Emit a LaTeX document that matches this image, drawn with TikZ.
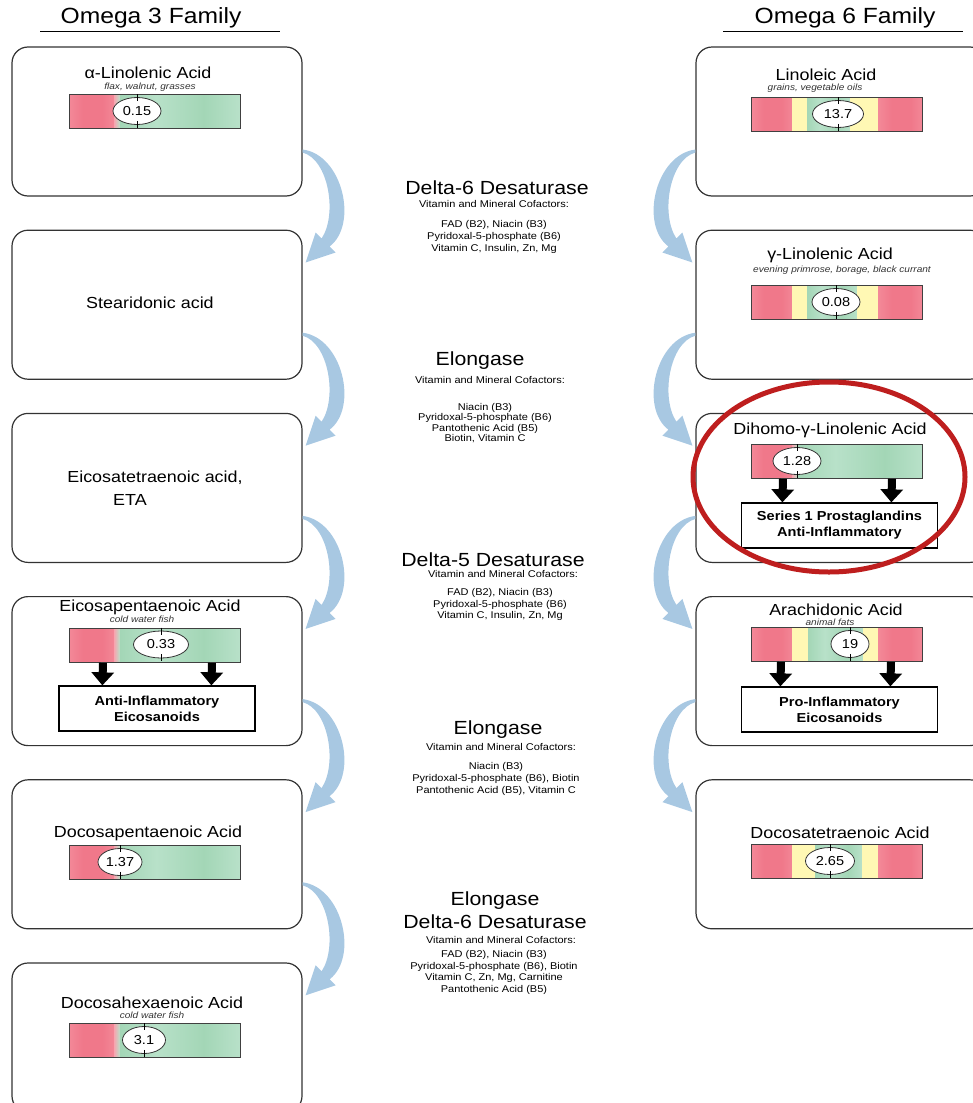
\documentclass[tikz,border=0pt]{standalone}
\usepackage{fontspec}
\setmainfont[FakeStretch=1.12]{Liberation Sans}
\usepackage{tikz}
\usetikzlibrary{positioning,arrows.meta,shapes.geometric,calc}
\definecolor{pkA}{HTML}{F8A4AF}
\definecolor{pkB}{HTML}{F0788A}
\definecolor{gnA}{HTML}{B8E1C9}
\definecolor{gnB}{HTML}{A3D6B6}
\definecolor{ylA}{HTML}{FFF8B4}
\definecolor{flowblue}{HTML}{A8C8E2}
\definecolor{hired}{HTML}{BE1E1E}
\pgfdeclarehorizontalshading{redband}{100bp}{color(0bp)=(pkA); color(40bp)=(pkB); color(62bp)=(pkB); color(100bp)=(pkA)}
\pgfdeclarehorizontalshading{greenband}{100bp}{color(0bp)=(gnA); color(25bp)=(gnB); color(40bp)=(gnA); color(60bp)=(gnB); color(75bp)=(gnA); color(90bp)=(gnB); color(100bp)=(gnA)}
\tikzset{
famtitle/.style={
font=\fontsize{22}{26}\selectfont
},
famline/.style={
line width=1.2pt
},
acidbox/.style={
draw=black!80,
line width=1.2pt,
rounded corners=16pt,
minimum width=290pt,
minimum height=149pt
},
acid/.style={
font=\fontsize{16}{19}\selectfont,
inner sep=0pt
},
source/.style={
font=\itshape\fontsize{9}{10}\selectfont,
text=black!80,
inner sep=0pt
},
bar/.style={
draw=black!75,
line width=0.8pt,
minimum width=171pt,
minimum height=34pt,
inner sep=0pt,
anchor=north west
},
val/.style={
ellipse,
draw=black!80,
line width=0.8pt,
fill=white,
minimum height=27pt,
inner sep=1pt,
font=\fontsize{13}{15}\selectfont
},
tick/.style={
line width=0.8pt
},
enzyme/.style={
font=\fontsize{19}{22}\selectfont,
inner sep=0pt
},
cofhead/.style={
font=\fontsize{9.8}{11}\selectfont,
inner sep=0pt
},
cof/.style={
font=\fontsize{9.8}{12}\selectfont,
align=center,
inner sep=0pt
},
effect/.style={
draw,
line width=1.3pt,
fill=white,
minimum width=196pt,
minimum height=45pt,
align=center,
font=\bfseries\fontsize{13}{16}\selectfont
},
blk/.style={
-{Triangle[width=22pt,length=13pt]},
line width=8pt
},
flow/.style={
fill=flowblue
},
hilite/.style={
draw=hired,
line width=5pt,
ellipse,
minimum width=272pt,
minimum height=190pt
}
}
% red | green bar: name, left x, top y, red end
\newcommand{\threebar}[4]{%
\begin{scope}[shift={(#2,#3)}]
\shade[shading=redband] (0,0) rectangle (#4,34);
\shade[left color=pkA,middle color=ylA,right color=gnA] (#4,0) rectangle (#4+6,34);
\shade[shading=greenband] (#4+6,0) rectangle (171,34);
\end{scope}
\node[bar](#1) at (#2,#3){};}
% red | yellow | green | yellow | red bar: name, left x, top y, green start, green end
\newcommand{\sixbar}[5]{%
\begin{scope}[shift={(#2,#3)}]
\shade[shading=redband] (0,0) rectangle (41.5,34);
\fill[ylA] (41,0) rectangle (#4+0.5,34);
\shade[shading=greenband] (#4,0) rectangle (#5,34);
\fill[ylA] (#5-0.5,0) rectangle (128,34);
\shade[shading=redband] (127.5,0) rectangle (171,34);
\end{scope}
\node[bar](#1) at (#2,#3){};}
\newcommand{\gauge}[4]{%
\node[val,minimum width=#3pt](#1) at (#2){#4};
\draw[tick]([yshift=3pt]#1.north)--([yshift=-4pt]#1.north)
([yshift=4pt]#1.south)--([yshift=-3pt]#1.south);}

\begin{document}
\begin{tikzpicture}[x=1pt,y=-1pt]
\useasboundingbox (0,0) rectangle (972,1103);

\node[famtitle](o3) at (151,18){Omega 3 Family};
\node[famtitle](o6) at (845,18){Omega 6 Family};
\draw[famline](40,31.5)--(280,31.5);
\draw[famline](723,31.5)--(963,31.5);

\node[acidbox](l1) at (157,121.5){};
\foreach \i [count=\j from 2] in {1,...,5}
\node[acidbox,below=33pt of l\i](l\j){};
\node[acidbox](r1) at (841,121.5){};
\foreach \i [count=\j from 2] in {1,...,4}
\node[acidbox,below=33pt of r\i](r\j){};

\foreach \i in {1,...,5}
\fill[flow,shift={([yshift=-28pt]l\i.east)}](0,0) .. controls (40,5) and (56,75) .. (27,97)
--(33,103)--(3,113)--(13,83)--(19,89) .. controls (35,65) and (26,10) .. (0,3)--cycle;
\foreach \i in {1,...,4}
\fill[flow,shift={([yshift=-28pt]r\i.west)},xscale=-1](0,0) .. controls (40,5) and (56,75) .. (27,97)
--(33,103)--(3,113)--(13,83)--(19,89) .. controls (35,65) and (26,10) .. (0,3)--cycle;

\node[acid](ala) at (148,73){α-Linolenic Acid};
\node[source](alas) at (150,87){flax, walnut, grasses};
\threebar{alab}{69}{94}{45}
\gauge{alav}{137,111}{48}{0.15}

\node[acid](sda) at (150,303){Stearidonic acid};

\node[acid](eta) at (155,478){Eicosatetraenoic acid,};
\node[acid,anchor=west](etb) at (113,500){ETA};

\node[acid](epa) at (150,607){Eicosapentaenoic Acid};
\node[source](epas) at (142,619){cold water fish};
\threebar{epab}{69}{628}{45}
\gauge{epav}{161,644.5}{55}{0.33}
\node[effect](epao) at (157,708.5){Anti-Inflammatory\\Eicosanoids};
\draw[blk]([xshift=34pt]epab.south west)--([xshift=44pt]epao.north west);
\draw[blk]([xshift=143pt]epab.south west)--([xshift=153pt]epao.north west);

\node[acid](dpa) at (148,833){Docosapentaenoic Acid};
\threebar{dpab}{69}{845}{45}
\gauge{dpav}{120,862}{44}{1.37}

\node[acid](dha) at (152,1003){Docosahexaenoic Acid};
\node[source](dhas) at (152,1015){cold water fish};
\threebar{dhab}{69}{1023}{45}
\gauge{dhav}{144,1040}{43}{3.1}

\node[acid](la) at (826,75){Linoleic Acid};
\node[source](las) at (815,88){grains, vegetable oils};
\sixbar{lab}{751}{97}{56}{99}
\gauge{lav}{838,114}{51}{13.7}

\node[acid](gla) at (830,255){γ-Linolenic Acid};
\node[source](glas) at (842,270){evening primrose, borage, black currant};
\sixbar{glab}{751}{285}{56}{106}
\gauge{glav}{836,302}{48}{0.08}

\node[acid](dgla) at (830,430){Dihomo-γ-Linolenic Acid};
\threebar{dglab}{751}{444}{41}
\gauge{dglav}{797,461}{48}{1.28}
\node[effect](dglao) at (839.5,525.5){Series 1 Prostaglandins\\Anti-Inflammatory};
\draw[blk]([xshift=32pt]dglab.south west)--([xshift=41.5pt]dglao.north west);
\draw[blk]([xshift=141pt]dglab.south west)--([xshift=150.5pt]dglao.north west);

\node[acid](aa) at (836,610){Arachidonic Acid};
\node[source](aas) at (830,622){animal fats};
\sixbar{aab}{751}{627}{57}{112}
\gauge{aav}{850,644}{38}{19}
\node[effect](aao) at (839.5,709.5){Pro-Inflammatory\\Eicosanoids};
\draw[blk]([xshift=30pt]aab.south west)--([xshift=39.5pt]aao.north west);
\draw[blk]([xshift=140pt]aab.south west)--([xshift=149.5pt]aao.north west);

\node[acid](dta) at (840,833){Docosatetraenoic Acid};
\sixbar{dtab}{751}{844}{64}{111}
\gauge{dtav}{830,861}{49}{2.65}

\node[enzyme](dsa) at (497,188){Delta-6 Desaturase};
\node[cofhead](dsah) at (494,204){Vitamin and Mineral Cofactors:};
\node[cof](dsac) at (494,237){FAD (B2), Niacin (B3)\\Pyridoxal-5-phosphate (B6)\\Vitamin C, Insulin, Zn, Mg};

\node[enzyme](ela) at (480,361){Elongase};
\node[cofhead](elah) at (490,380){Vitamin and Mineral Cofactors:};
\node[cof,font=\fontsize{9.8}{10.4}\selectfont](elac) at (485,423){Niacin (B3)\\Pyridoxal-5-phosphate (B6)\\Pantothenic Acid (B5)\\Biotin, Vitamin C};

\node[enzyme](dsb) at (493,560){Delta-5 Desaturase};
\node[cofhead](dsbh) at (503,574){Vitamin and Mineral Cofactors:};
\node[cof,font=\fontsize{9.8}{11.5}\selectfont](dsbc) at (500,604.5){FAD (B2), Niacin (B3)\\Pyridoxal-5-phosphate (B6)\\Vitamin C, Insulin, Zn, Mg};

\node[enzyme](elb) at (498,730){Elongase};
\node[cofhead](elbh) at (501,747){Vitamin and Mineral Cofactors:};
\node[cof](elbc) at (496,779){Niacin (B3)\\Pyridoxal-5-phosphate (B6), Biotin\\Pantothenic Acid (B5), Vitamin C};

\node[enzyme,align=center,font=\fontsize{19}{23}\selectfont](elc) at (495,910.5){Elongase\\Delta-6 Desaturase};
\node[cofhead](elch) at (501,940){Vitamin and Mineral Cofactors:};
\node[cof,font=\fontsize{9.8}{11.7}\selectfont](elcc) at (494,972.5){FAD (B2), Niacin (B3)\\Pyridoxal-5-phosphate (B6), Biotin\\Vitamin C, Zn, Mg, Carnitine\\Pantothenic Acid (B5)};

\node[hilite](focus) at (829,477){};
\end{tikzpicture}
\end{document}
